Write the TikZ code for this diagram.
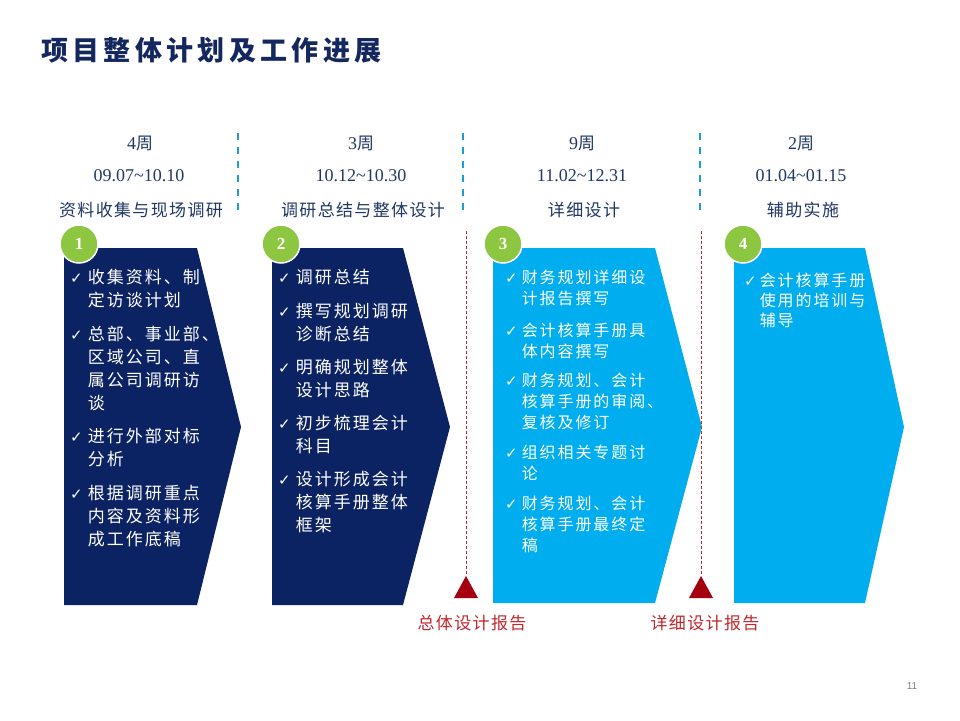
\documentclass[tikz,border=0pt]{standalone}
\usepackage{fontspec}
\usepackage{array}
\setmainfont{Liberation Serif}
\newfontfamily\cjktitle[LetterSpace=16]{Noto Sans CJK SC}
\newfontfamily\cjkh[LetterSpace=8]{Noto Sans CJK SC}
\newfontfamily\cjkb[LetterSpace=12]{Noto Sans CJK SC}
\newfontfamily\symf{DejaVu Sans}
\newfontfamily\pgnum{Liberation Sans}
\usetikzlibrary{shapes.geometric}
\definecolor{navybox}{HTML}{0B2362}
\definecolor{skybox}{HTML}{00AEEF}
\definecolor{greenc}{HTML}{8DC641}
\definecolor{titlec}{HTML}{14285F}
\definecolor{hdrc}{HTML}{1F3864}
\definecolor{bluedash}{HTML}{1E9BD7}
\definecolor{redl}{HTML}{C0282D}
\definecolor{redtri}{HTML}{A50010}
\newcommand{\ck}{{\symf\fontsize{15}{15}\selectfont ✓}}
\tikzset{
  hdr/.style={text=hdrc, font=\fontsize{18}{20}\selectfont, inner sep=0pt},
  hdrcjk/.style={text=hdrc, font=\cjkh\fontsize{17}{20}\selectfont, inner sep=0pt},
  num/.style={circle, fill=greenc, draw=white, line width=1.5pt, minimum size=38pt, inner sep=0pt, text=white, font=\bfseries\fontsize{17}{17}\selectfont},
  itemtxt/.style={text=white, anchor=base west, inner sep=0pt},
  bluesep/.style={draw=bluedash, line width=2.6pt, dash pattern=on 7pt off 7pt},
  redsep/.style={draw=redl, line width=0.9pt, dash pattern=on 3pt off 2pt},
  milestone/.style={text=redl, font=\cjkh\fontsize{17}{20}\selectfont, inner sep=0pt},
}
\begin{document}
\begin{tikzpicture}[x=1pt,y=-1pt]
\useasboundingbox (0,0) rectangle (960,720);
\fill[white] (0,0) rectangle (960,720);

% title
\node[anchor=west, text=titlec, font=\cjktitle\bfseries\fontsize{27}{30}\selectfont, inner sep=0pt] (title) at (41,50) {项目整体计划及工作进展};

% header columns
\node[hdr] (w1) at (140,143) {4{\cjkh\fontsize{17}{20}\selectfont 周}};
\node[hdr] (d1) at (139,176) {09.07\textasciitilde10.10};
\node[hdrcjk] (n1) at (141,210) {资料收集与现场调研};
\node[hdr] (w2) at (361,143) {3{\cjkh\fontsize{17}{20}\selectfont 周}};
\node[hdr] (d2) at (361,176) {10.12\textasciitilde10.30};
\node[hdrcjk] (n2) at (363,210) {调研总结与整体设计};
\node[hdr] (w3) at (582,143) {9{\cjkh\fontsize{17}{20}\selectfont 周}};
\node[hdr] (d3) at (582,176) {11.02\textasciitilde12.31};
\node[hdrcjk] (n3) at (584,210) {详细设计};
\node[hdr] (w4) at (801,143) {2{\cjkh\fontsize{17}{20}\selectfont 周}};
\node[hdr] (d4) at (801,176) {01.04\textasciitilde01.15};
\node[hdrcjk] (n4) at (803,210) {辅助实施};

% blue dashed separators
\coordinate (b1t) at (238,133); \coordinate (b1b) at (238,216);
\coordinate (b2t) at (463,133); \coordinate (b2b) at (463,216);
\coordinate (b3t) at (700,133); \coordinate (b3b) at (700,216);
\draw[bluesep] (b1t) -- (b1b);
\draw[bluesep] (b2t) -- (b2b);
\draw[bluesep] (b3t) -- (b3b);

% chevron boxes
\fill[navybox] (64,248) -- (197,248) -- (241,427) -- (197,605) -- (64,605) -- cycle;
\fill[navybox] (272,248) -- (403,248) -- (450,427) -- (403,605) -- (272,605) -- cycle;
\fill[skybox] (493,248) -- (655,248) -- (702,427) -- (655,603) -- (493,603) -- cycle;
\fill[skybox] (734,248) -- (865,248) -- (904,427) -- (865,603) -- (734,603) -- cycle;

% number circles
\node[num] (c1) at (79,244) {1};
\node[num] (c2) at (281,244) {2};
\node[num] (c3) at (503,244) {3};
\node[num] (c4) at (743,244) {4};

% item texts
\node[itemtxt] (t1) at (70,283) {\cjkb\fontsize{17}{23}\selectfont
\begin{tabular}[t]{@{}l@{\hspace{5pt}}l@{}}
\ck & 收集资料、制\\
    & 定访谈计划\\[11pt]
\ck & 总部、事业部、\\
    & 区域公司、直\\
    & 属公司调研访\\
    & 谈\\[10pt]
\ck & 进行外部对标\\
    & 分析\\[11pt]
\ck & 根据调研重点\\
    & 内容及资料形\\
    & 成工作底稿
\end{tabular}};

\node[itemtxt] (t2) at (278,283) {\cjkb\fontsize{17}{23}\selectfont
\begin{tabular}[t]{@{}l@{\hspace{5pt}}l@{}}
\ck & 调研总结\\[11pt]
\ck & 撰写规划调研\\
    & 诊断总结\\[10pt]
\ck & 明确规划整体\\
    & 设计思路\\[10pt]
\ck & 初步梳理会计\\
    & 科目\\[10pt]
\ck & 设计形成会计\\
    & 核算手册整体\\
    & 框架
\end{tabular}};

\node[itemtxt] (t3) at (505,283) {\cjkb\fontsize{16}{21}\selectfont
\begin{tabular}[t]{@{}l@{\hspace{4pt}}l@{}}
\ck & 财务规划详细设\\
    & 计报告撰写\\[11pt]
\ck & 会计核算手册具\\
    & 体内容撰写\\[8pt]
\ck & 财务规划、会计\\
    & 核算手册的审阅、\\
    & 复核及修订\\[9pt]
\ck & 组织相关专题讨\\
    & 论\\[9pt]
\ck & 财务规划、会计\\
    & 核算手册最终定\\
    & 稿
\end{tabular}};

\node[itemtxt] (t4) at (744,286) {\cjkb\fontsize{16}{20}\selectfont
\begin{tabular}[t]{@{}l@{\hspace{3pt}}l@{}}
\ck & 会计核算手册\\
    & 使用的培训与\\
    & 辅导
\end{tabular}};

% milestones
\coordinate (r1t) at (466,231);
\coordinate (r2t) at (701,231);
\coordinate (m1) at (466,576);
\coordinate (m2) at (701,576);
\draw[redsep] (r1t) -- (m1);
\draw[redsep] (r2t) -- (m2);
\fill[redtri] (m1) -- (454,598) -- (478,598) -- cycle;
\fill[redtri] (m2) -- (689,598) -- (713,598) -- cycle;
\node[milestone] (ml1) at (472,623) {总体设计报告};
\node[milestone] (ml2) at (705,623) {详细设计报告};

% page number
\node[text=gray, font=\pgnum\fontsize{10}{12}\selectfont, inner sep=0pt] (pg) at (912,686) {11};
\end{tikzpicture}
\end{document}
